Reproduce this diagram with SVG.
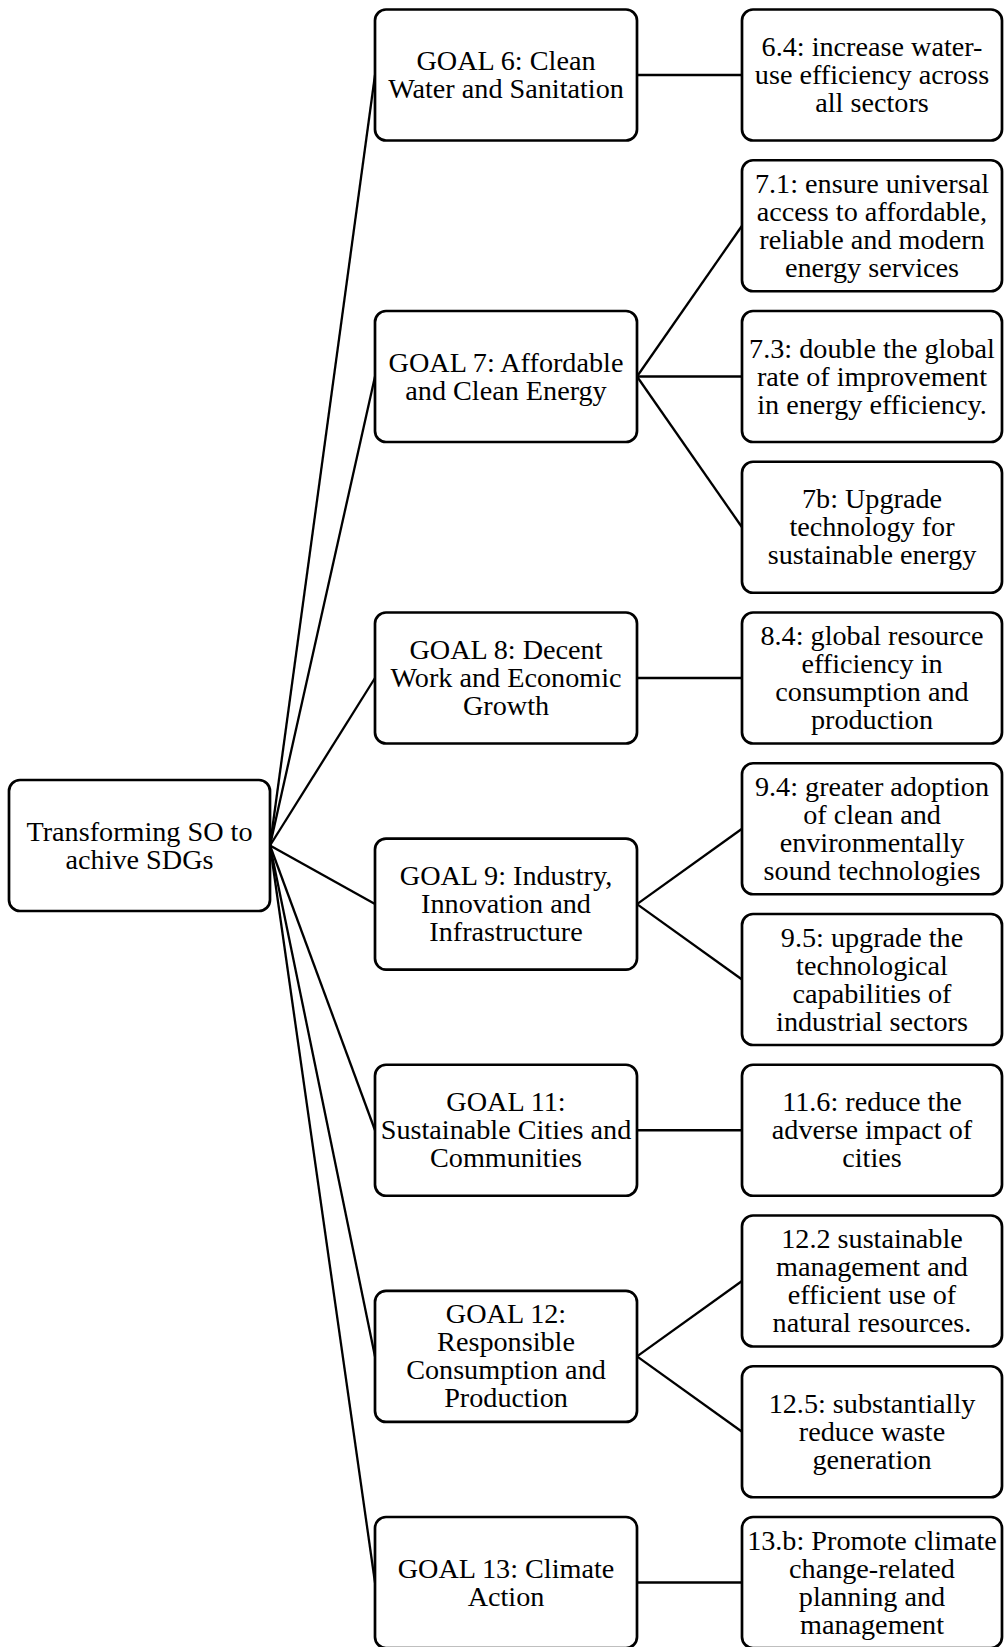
<svg xmlns="http://www.w3.org/2000/svg" width="1005" height="1647" viewBox="0 0 1005 1647">
<style>
.box{fill:#fff;stroke:#000;stroke-width:2.7}
.lbl{font-family:"Liberation Serif","Times New Roman",serif;font-size:28.2px;fill:#000;text-anchor:middle}
.con line{stroke:#000;stroke-width:2.3}
</style>
<rect width="1005" height="1647" fill="#fff"/>
<g id="connectors" class="con">
<line x1="270" y1="845.5" x2="375" y2="75"/>
<line x1="270" y1="845.5" x2="375" y2="376.5"/>
<line x1="270" y1="845.5" x2="375" y2="678"/>
<line x1="270" y1="845.5" x2="375" y2="904.1"/>
<line x1="270" y1="845.5" x2="375" y2="1130.25"/>
<line x1="270" y1="845.5" x2="375" y2="1356.4"/>
<line x1="270" y1="845.5" x2="375" y2="1582.5"/>
<line x1="637" y1="75" x2="742" y2="75"/>
<line x1="637" y1="376.5" x2="742" y2="225.75"/>
<line x1="637" y1="376.5" x2="742" y2="376.5"/>
<line x1="637" y1="376.5" x2="742" y2="527.25"/>
<line x1="637" y1="678" x2="742" y2="678"/>
<line x1="637" y1="904.1" x2="742" y2="828.75"/>
<line x1="637" y1="904.1" x2="742" y2="979.5"/>
<line x1="637" y1="1130.25" x2="742" y2="1130.25"/>
<line x1="637" y1="1356.4" x2="742" y2="1281"/>
<line x1="637" y1="1356.4" x2="742" y2="1431.75"/>
<line x1="637" y1="1582.5" x2="742" y2="1582.5"/>
</g>
<g id="root">
<rect class="box" x="9" y="780" width="261" height="131" rx="11"/>
<text class="lbl" x="139.5" y="840.5"><tspan x="139.5">Transforming SO to</tspan><tspan x="139.5" dy="28">achive SDGs</tspan></text>
</g>
<g id="goal6">
<rect class="box" x="375" y="9.5" width="262" height="131" rx="11"/>
<text class="lbl" y="70"><tspan x="506">GOAL 6: Clean</tspan><tspan x="506" dy="28">Water and Sanitation</tspan></text>
</g>
<g id="goal7">
<rect class="box" x="375" y="311" width="262" height="131" rx="11"/>
<text class="lbl" y="371.5"><tspan x="506">GOAL 7: Affordable</tspan><tspan x="506" dy="28">and Clean Energy</tspan></text>
</g>
<g id="goal8">
<rect class="box" x="375" y="612.5" width="262" height="131" rx="11"/>
<text class="lbl" y="659"><tspan x="506">GOAL 8: Decent</tspan><tspan x="506" dy="28">Work and Economic</tspan><tspan x="506" dy="28">Growth</tspan></text>
</g>
<g id="goal9">
<rect class="box" x="375" y="838.6" width="262" height="131" rx="11"/>
<text class="lbl" y="885.1"><tspan x="506">GOAL 9: Industry,</tspan><tspan x="506" dy="28">Innovation and</tspan><tspan x="506" dy="28">Infrastructure</tspan></text>
</g>
<g id="goal11">
<rect class="box" x="375" y="1064.75" width="262" height="131" rx="11"/>
<text class="lbl" y="1111.25"><tspan x="506">GOAL 11:</tspan><tspan x="506" dy="28">Sustainable Cities and</tspan><tspan x="506" dy="28">Communities</tspan></text>
</g>
<g id="goal12">
<rect class="box" x="375" y="1290.9" width="262" height="131" rx="11"/>
<text class="lbl" y="1323.4"><tspan x="506">GOAL 12:</tspan><tspan x="506" dy="28">Responsible</tspan><tspan x="506" dy="28">Consumption and</tspan><tspan x="506" dy="28">Production</tspan></text>
</g>
<g id="goal13">
<rect class="box" x="375" y="1517" width="262" height="131" rx="11"/>
<text class="lbl" y="1577.5"><tspan x="506">GOAL 13: Climate</tspan><tspan x="506" dy="28">Action</tspan></text>
</g>
<g id="t6_4">
<rect class="box" x="742" y="9.5" width="260" height="131" rx="11"/>
<text class="lbl" y="56"><tspan x="872">6.4: increase water-</tspan><tspan x="872" dy="28">use efficiency across</tspan><tspan x="872" dy="28">all sectors</tspan></text>
</g>
<g id="t7_1">
<rect class="box" x="742" y="160.25" width="260" height="131" rx="11"/>
<text class="lbl" y="192.75"><tspan x="872">7.1: ensure universal</tspan><tspan x="872" dy="28">access to affordable,</tspan><tspan x="872" dy="28">reliable and modern</tspan><tspan x="872" dy="28">energy services</tspan></text>
</g>
<g id="t7_3">
<rect class="box" x="742" y="311" width="260" height="131" rx="11"/>
<text class="lbl" y="357.5"><tspan x="872">7.3: double the global</tspan><tspan x="872" dy="28">rate of improvement</tspan><tspan x="872" dy="28">in energy efficiency.</tspan></text>
</g>
<g id="t7b">
<rect class="box" x="742" y="461.75" width="260" height="131" rx="11"/>
<text class="lbl" y="508.25"><tspan x="872">7b: Upgrade</tspan><tspan x="872" dy="28">technology for</tspan><tspan x="872" dy="28">sustainable energy</tspan></text>
</g>
<g id="t8_4">
<rect class="box" x="742" y="612.5" width="260" height="131" rx="11"/>
<text class="lbl" y="645"><tspan x="872">8.4: global resource</tspan><tspan x="872" dy="28">efficiency in</tspan><tspan x="872" dy="28">consumption and</tspan><tspan x="872" dy="28">production</tspan></text>
</g>
<g id="t9_4">
<rect class="box" x="742" y="763.25" width="260" height="131" rx="11"/>
<text class="lbl" y="795.75"><tspan x="872">9.4: greater adoption</tspan><tspan x="872" dy="28">of clean and</tspan><tspan x="872" dy="28">environmentally</tspan><tspan x="872" dy="28">sound technologies</tspan></text>
</g>
<g id="t9_5">
<rect class="box" x="742" y="914" width="260" height="131" rx="11"/>
<text class="lbl" y="946.5"><tspan x="872">9.5: upgrade the</tspan><tspan x="872" dy="28">technological</tspan><tspan x="872" dy="28">capabilities of</tspan><tspan x="872" dy="28">industrial sectors</tspan></text>
</g>
<g id="t11_6">
<rect class="box" x="742" y="1064.75" width="260" height="131" rx="11"/>
<text class="lbl" y="1111.25"><tspan x="872">11.6: reduce the</tspan><tspan x="872" dy="28">adverse impact of</tspan><tspan x="872" dy="28">cities</tspan></text>
</g>
<g id="t12_2">
<rect class="box" x="742" y="1215.5" width="260" height="131" rx="11"/>
<text class="lbl" y="1248"><tspan x="872">12.2 sustainable</tspan><tspan x="872" dy="28">management and</tspan><tspan x="872" dy="28">efficient use of</tspan><tspan x="872" dy="28">natural resources.</tspan></text>
</g>
<g id="t12_5">
<rect class="box" x="742" y="1366.25" width="260" height="131" rx="11"/>
<text class="lbl" y="1412.75"><tspan x="872">12.5: substantially</tspan><tspan x="872" dy="28">reduce waste</tspan><tspan x="872" dy="28">generation</tspan></text>
</g>
<g id="t13_b">
<rect class="box" x="742" y="1517" width="260" height="131" rx="11"/>
<text class="lbl" y="1549.5"><tspan x="872">13.b: Promote climate</tspan><tspan x="872" dy="28">change-related</tspan><tspan x="872" dy="28">planning and</tspan><tspan x="872" dy="28">management</tspan></text>
</g>
</svg>
